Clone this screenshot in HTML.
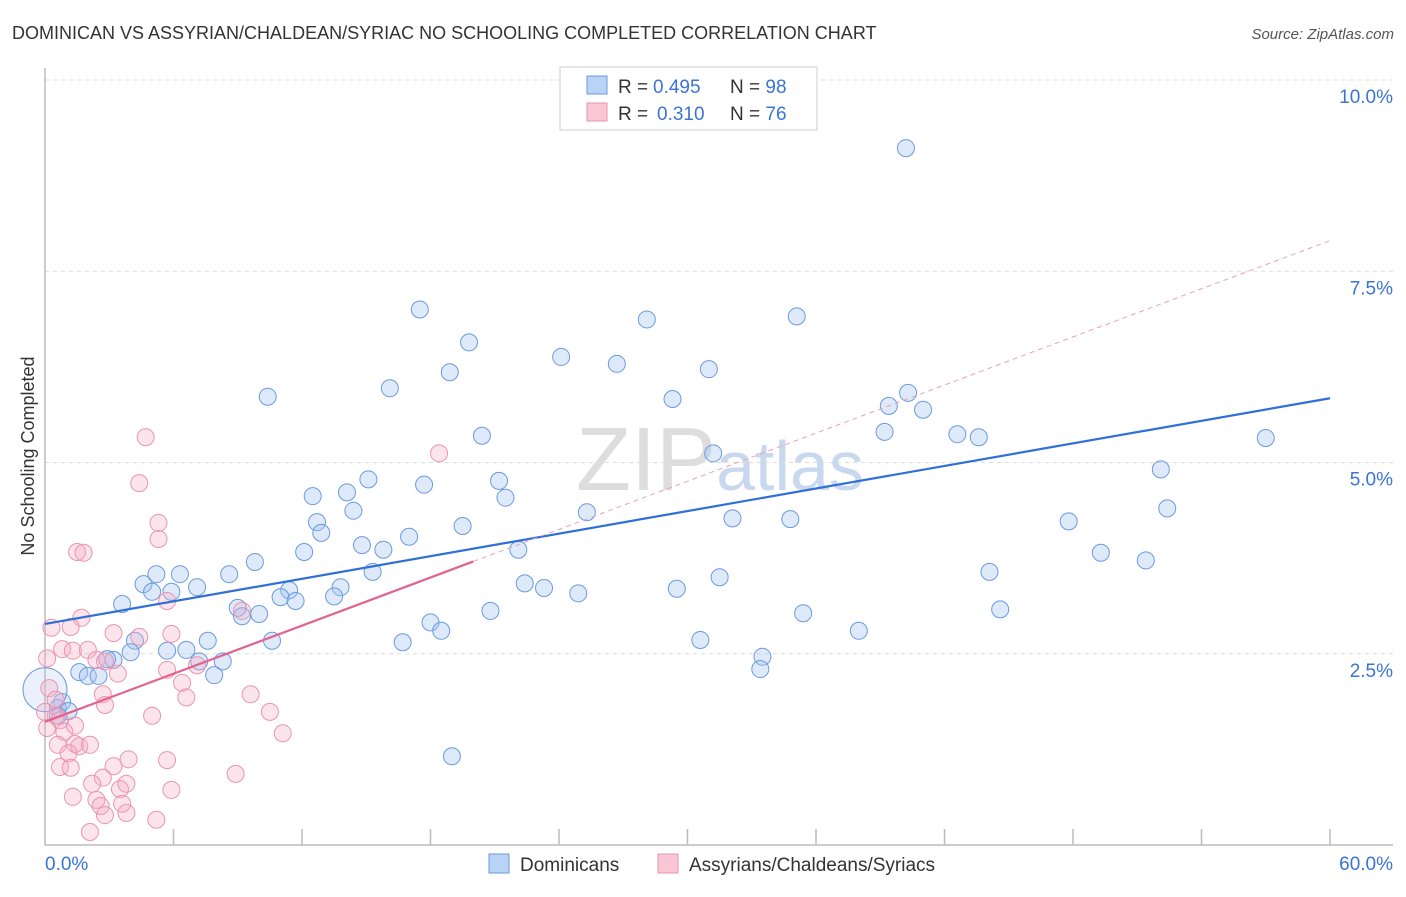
<!DOCTYPE html>
<html><head><meta charset="utf-8"><style>
body{margin:0;background:#fff;font-family:"Liberation Sans",sans-serif;}
svg text{font-family:"Liberation Sans",sans-serif;}
</style></head><body>
<svg id="chart" width="1406" height="892" xmlns="http://www.w3.org/2000/svg">
<text x="12" y="39" font-size="18" fill="#333">DOMINICAN VS ASSYRIAN/CHALDEAN/SYRIAC NO SCHOOLING COMPLETED CORRELATION CHART</text>
<text x="1394" y="39" font-size="15" fill="#555" text-anchor="end" font-style="italic">Source: ZipAtlas.com</text>
<text x="34" y="456" font-size="18" fill="#333" text-anchor="middle" transform="rotate(-90 34 456)">No Schooling Completed</text>
<text x="720" y="490" font-size="90" fill="#ddd" text-anchor="middle" font-family="Liberation Serif">ZIP<tspan fill="#c8d8ee" font-family="Liberation Sans" font-size="70">atlas</tspan></text>
<g id="grid"></g>
<g id="marks"></g>
<g id="lines"></g>
<g>
<rect x="560" y="67" width="257" height="63" fill="#fff" stroke="#ccc"/>
<rect x="587" y="76" width="20" height="18" fill="#b9d3f5" stroke="#6a9ae0"/>
<rect x="587" y="103" width="20" height="18" fill="#f9c6d6" stroke="#ea94b0"/>
<text x="618" y="93" font-size="19" fill="#333">R = <tspan x="653" fill="#3a74d4">0.495</tspan></text>
<text x="730" y="93" font-size="19" fill="#333">N = <tspan fill="#3a74d4">98</tspan></text>
<text x="618" y="120" font-size="19" fill="#333">R = <tspan x="657" fill="#3a74d4">0.310</tspan></text>
<text x="730" y="120" font-size="19" fill="#333">N = <tspan fill="#3a74d4">76</tspan></text>
</g>
<g>
<rect x="489" y="854" width="20" height="19" fill="#b9d3f5" stroke="#6a9ae0"/>
<text x="520" y="871" font-size="19" fill="#333">Dominicans</text>
<rect x="658" y="854" width="20" height="19" fill="#f9c6d6" stroke="#ea94b0"/>
<text x="689" y="871" font-size="19" fill="#333">Assyrians/Chaldeans/Syriacs</text>
</g>
</svg>
<script>
const xTickVals=[0,60];
const yTickVals=[2.5,5,7.5,10];
const blueX=[40.2,17.5,28.1,35.1,19.8,24.1,26.7,18.9,31.0,16.1,10.4,29.3,40.3,39.4,41.0,20.4,39.2,42.6,43.6,31.2,57.0,52.1,15.1,14.1,12.5,17.7,21.2,21.5,14.4,12.7,12.9,19.5,25.3,52.4,32.1,34.8,47.8,14.8,15.8,17.0,12.1,9.8,22.1,49.3,51.4,8.6,6.3,5.2,4.6,5.0,5.9,7.1,15.3,44.1,31.5,22.4,23.3,13.8,13.5,11.4,11.0,11.7,24.9,29.5,9.0,9.2,10.0,3.6,20.8,35.4,44.6,18.0,18.5,38.0,7.6,4.2,10.6,16.7,30.6,5.7,6.6,4.0,3.2,2.9,7.2,8.3,1.6,2.0,2.5,7.9,33.5,33.4,19.0,0.8,0.6,1.1,0.6,0.0];
const blueY=[9.11,7.00,6.87,6.91,6.57,6.38,6.29,6.18,6.22,5.97,5.86,5.83,5.91,5.74,5.69,5.35,5.40,5.37,5.33,5.12,5.32,4.91,4.78,4.61,4.56,4.71,4.76,4.54,4.37,4.22,4.08,4.17,4.35,4.40,4.27,4.26,4.23,3.92,3.86,4.03,3.83,3.70,3.86,3.82,3.72,3.54,3.54,3.54,3.41,3.31,3.31,3.37,3.57,3.57,3.50,3.42,3.36,3.37,3.25,3.33,3.24,3.19,3.29,3.35,3.10,2.99,3.02,3.15,3.06,3.03,3.08,2.91,2.80,2.80,2.67,2.67,2.67,2.65,2.68,2.54,2.55,2.52,2.42,2.43,2.40,2.40,2.26,2.21,2.21,2.22,2.46,2.30,1.16,1.87,1.79,1.75,1.69,2.03];
const pinkX=[4.7,18.4,4.4,5.3,5.3,1.5,1.8,5.7,1.7,9.2,1.2,3.2,4.4,5.9,0.1,0.3,0.8,1.3,2.0,2.4,2.8,3.4,5.7,7.1,6.4,6.6,2.7,2.8,9.6,10.5,11.1,5.0,0.2,0.5,0.5,0.7,0.9,1.4,1.4,0.6,1.6,2.1,1.1,3.9,5.7,0.7,1.2,3.2,2.7,2.2,8.9,5.9,1.3,3.5,2.4,2.6,2.8,3.8,5.2,2.1,3.8,3.6,0.0,0.1];
const pinkY=[5.33,5.12,4.73,4.21,4.00,3.83,3.82,3.19,2.97,3.06,2.85,2.77,2.72,2.76,2.44,2.84,2.56,2.54,2.55,2.42,2.40,2.24,2.29,2.35,2.12,1.93,1.97,1.83,1.97,1.74,1.46,1.69,2.05,1.90,1.69,1.63,1.48,1.56,1.32,1.31,1.29,1.31,1.20,1.12,1.11,1.02,1.01,1.03,0.88,0.80,0.93,0.72,0.63,0.73,0.59,0.51,0.39,0.42,0.33,0.17,0.80,0.54,1.74,1.53];
const blueTrend=[2.89,5.84];
const pinkTrend=[1.61,7.9];
const pinkSolidEnd=20;

const X0=45,X1=1330,Y0=845;
const sx=v=>X0+(X1-X0)*v/60;
const sy=v=>Y0-v*76.5;
const NS='http://www.w3.org/2000/svg';
function mk(tag,attrs,parent){const e=document.createElementNS(NS,tag);for(const k in attrs)e.setAttribute(k,attrs[k]);parent.appendChild(e);return e;}
const grid=document.getElementById('grid'),marks=document.getElementById('marks'),lines=document.getElementById('lines');
yTickVals.forEach(v=>{
  const l=mk('line',{x1:X0,x2:1393,y1:sy(v),y2:sy(v),stroke:'#ddd','stroke-dasharray':'4,4'},grid);
  
  
  const t=mk('text',{x:1393,y:sy(v)+23,'font-size':19,fill:'#3a74d4','text-anchor':'end'},grid);
  t.textContent=v.toFixed(1)+'%';
  
  
});
const ax=mk('path',{d:`M${X0},68V${Y0}H1393`,fill:'none',stroke:'#bbb','stroke-width':1.5},grid);


for(let i=1;i<=10;i++){
  const tk=mk('line',{x1:sx(i*6),x2:sx(i*6),y1:Y0-16,y2:Y0,stroke:'#bbb','stroke-width':1.5},grid);
  
  
}
xTickVals.forEach((v,i)=>{
  const t=mk('text',{x:i==0?X0:1393,y:870,'font-size':19,fill:'#3a74d4','text-anchor':i==0?'start':'end'},grid);
  t.textContent=v.toFixed(1)+'%';
  
  
});
blueX.forEach((x,i)=>{
  const big=i==blueX.length-1;
  const c=mk('circle',{cx:sx(x),cy:sy(blueY[i]),r:big?22:8.5,fill:big?'rgba(170,200,240,0.25)':'rgba(160,196,240,0.35)',stroke:'#6a9ae0','stroke-width':1},marks);
  
  
});
pinkX.forEach((x,i)=>{
  const c=mk('circle',{cx:sx(x),cy:sy(pinkY[i]),r:8.5,fill:'rgba(246,172,196,0.32)',stroke:'#ea94b0','stroke-width':1},marks);
  
  
});
const pAt=x=>pinkTrend[0]+(pinkTrend[1]-pinkTrend[0])*x/60;
const bl=mk('line',{x1:sx(0),y1:sy(blueTrend[0]),x2:sx(60),y2:sy(blueTrend[1]),stroke:'#2f6fd6','stroke-width':2.2},lines);


const pd=mk('line',{x1:sx(pinkSolidEnd),y1:sy(pAt(pinkSolidEnd)),x2:sx(60),y2:sy(pinkTrend[1]),stroke:'#eaa0b8','stroke-width':1,'stroke-dasharray':'5,4'},lines);


const pl=mk('line',{x1:sx(0),y1:sy(pinkTrend[0]),x2:sx(pinkSolidEnd),y2:sy(pAt(pinkSolidEnd)),stroke:'#e4618d','stroke-width':2.2},lines);


</script>
</body></html>
